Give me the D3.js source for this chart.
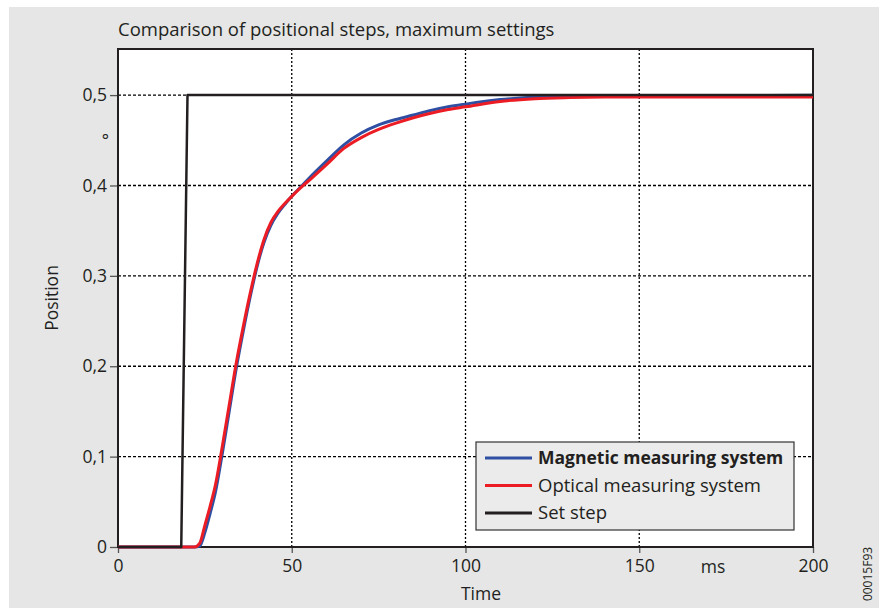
<!DOCTYPE html>
<html>
<head>
<meta charset="utf-8">
<script src="https://cdn.jsdelivr.net/npm/d3@7"></script>
<style>
  body { margin: 0; background: #fff; }
  text { font-family: "Open Sans", "Noto Sans", sans-serif; fill: #231f20; }
</style>
</head>
<body>
<div id="chart"></div>
<script>
// time in ms, position in degrees
const timeMs = [0, 18, 22, 23.5, 25, 26.5, 28, 30, 32, 34, 36, 38, 40, 42, 44, 46, 48, 50, 53, 56,
                60, 65, 70, 75, 80, 85, 90, 95, 100, 110, 120, 130, 140, 150, 175, 200];
const magnetic = [0, 0, 0, 0.001, 0.016, 0.037, 0.06, 0.103, 0.150, 0.197, 0.238, 0.276, 0.310, 0.337, 0.356, 0.369, 0.379, 0.388, 0.400, 0.412,
                  0.427, 0.445, 0.458, 0.467, 0.473, 0.478, 0.483, 0.487, 0.490, 0.495, 0.4975, 0.4985, 0.499, 0.4993, 0.4995, 0.4997];
const optical = [0, 0, 0, 0.004, 0.024, 0.045, 0.068, 0.111, 0.157, 0.203, 0.243, 0.280, 0.313, 0.340, 0.359, 0.371, 0.380, 0.388, 0.399, 0.409,
                 0.423, 0.441, 0.453, 0.462, 0.469, 0.475, 0.480, 0.484, 0.487, 0.493, 0.496, 0.4972, 0.4978, 0.498, 0.498, 0.4978];
const stepTime = [0, 18.2, 20, 200];
const stepPos = [0, 0, 0.5, 0.5];

const xTicks = [0, 50, 100, 150, 200];
const yTicks = [0, 0.1, 0.2, 0.3, 0.4, 0.5];
const legendNames = ['Magnetic measuring system', 'Optical measuring system', 'Set step'];
const colors = ['#2f4fa2', '#ec1c24', '#231f20'];

const w = 884;
const h = 608;
const margin = {left: 118, right: 71, top: 49, bottom: 61};

const svg = d3.select('#chart')
    .append('svg')
    .attr('width', w)
    .attr('height', h);

svg.append('rect')
   .attr('x', 9).attr('y', 7)
   .attr('width', 870).attr('height', h - 7)
   .attr('fill', '#e6e6e6');

const x = d3.scaleLinear().domain([0, 200]).range([margin.left, w - margin.right]);
const y = d3.scaleLinear().domain([0, 0.551]).range([h - margin.bottom, margin.top]);

// plot area
svg.append('rect')
   .attr('x', x(0)).attr('y', y(0.551))
   .attr('width', x(200) - x(0)).attr('height', y(0) - y(0.551))
   .attr('fill', '#fff');

// grid
svg.append('g')
   .selectAll('line')
   .data(xTicks.slice(1, -1))
   .enter()
   .append('line')
   .attr('x1', d => x(d)).attr('x2', d => x(d))
   .attr('y1', y(0.551)).attr('y2', y(0))
   .attr('stroke', '#000')
   .attr('stroke-width', 1.3)
   .attr('stroke-dasharray', '2,2');

svg.append('g')
   .selectAll('line')
   .data(yTicks.slice(1))
   .enter()
   .append('line')
   .attr('x1', x(0)).attr('x2', x(200))
   .attr('y1', d => y(d)).attr('y2', d => y(d))
   .attr('stroke', '#000')
   .attr('stroke-width', 1.3)
   .attr('stroke-dasharray', '3,2');

// axes
const fmt = d => d === 0 ? '0' : d3.format('.1f')(d).replace('.', ',');

const yAxis = svg.append('g')
   .attr('transform', 'translate(' + margin.left + ',0)')
   .call(d3.axisLeft(y).tickValues(yTicks).tickFormat(fmt).tickSize(8).tickPadding(3));

const xAxis = svg.append('g')
   .attr('transform', 'translate(0,' + (h - margin.bottom) + ')')
   .call(d3.axisBottom(x).tickValues(xTicks).tickFormat(d => d).tickSize(6).tickPadding(7));

[yAxis, xAxis].forEach(g => {
    g.select('.domain').remove();
    g.selectAll('.tick line').attr('stroke', '#555').attr('stroke-width', 1.3);
    g.selectAll('.tick text').style('font-size', '17.5px').attr('fill', '#231f20');
});

// frame
svg.append('rect')
   .attr('x', x(0)).attr('y', y(0.551))
   .attr('width', x(200) - x(0)).attr('height', y(0) - y(0.551))
   .attr('fill', 'none')
   .attr('stroke', '#231f20')
   .attr('stroke-width', 2);

// curves
const line = d3.line().x(d => x(d[0])).y(d => y(d[1])).curve(d3.curveMonotoneX);

const series = [
    d3.zip(timeMs, magnetic),
    d3.zip(timeMs, optical),
    d3.zip(stepTime, stepPos)
];

svg.append('g')
   .selectAll('path')
   .data(series)
   .enter()
   .append('path')
   .attr('d', (d, i) => i === 2 ? d3.line().x(p => x(p[0])).y(p => y(p[1]))(d) : line(d))
   .attr('fill', 'none')
   .attr('stroke', (d, i) => colors[i])
   .attr('stroke-width', (d, i) => i === 2 ? 2.5 : 3)
   .attr('stroke-linejoin', 'round');

// labels
svg.append('text')
   .attr('x', 118).attr('y', 36)
   .style('font-size', '18.5px')
   .text('Comparison of positional steps, maximum settings');

svg.append('text')
   .attr('x', 109).attr('y', 146)
   .attr('text-anchor', 'end')
   .style('font-size', '17px')
   .text('°');

svg.append('text')
   .attr('x', 713).attr('y', 573)
   .attr('text-anchor', 'middle')
   .style('font-size', '17.5px')
   .text('ms');

svg.append('text')
   .attr('x', 481).attr('y', 600)
   .attr('text-anchor', 'middle')
   .style('font-size', '17.5px')
   .text('Time');

svg.append('text')
   .attr('transform', 'translate(58,298) rotate(-90)')
   .attr('text-anchor', 'middle')
   .style('font-size', '17.5px')
   .text('Position');

svg.append('text')
   .attr('transform', 'translate(872,574) rotate(-90)')
   .attr('text-anchor', 'middle')
   .style('font-size', '12px')
   .text('00015F93');

// legend
const legend = svg.append('g').attr('transform', 'translate(476,442)');

legend.append('rect')
      .attr('width', 318).attr('height', 88)
      .attr('fill', '#ebebeb')
      .attr('stroke', '#333')
      .attr('stroke-width', 1.2);

const items = legend.selectAll('.legendItem')
      .data(legendNames)
      .enter()
      .append('g')
      .attr('class', 'legendItem')
      .attr('transform', (d, i) => 'translate(0,' + (16 + i * 27.5) + ')');

items.append('line')
     .attr('x1', 9).attr('x2', 56)
     .attr('stroke', (d, i) => colors[i])
     .attr('stroke-width', 3);

items.append('text')
     .attr('x', 62).attr('y', 6)
     .style('font-size', (d, i) => i === 0 ? '17.5px' : '18.5px')
     .style('font-weight', (d, i) => i === 0 ? 'bold' : 'normal')
     .text(d => d);
</script>
</body>
</html>
